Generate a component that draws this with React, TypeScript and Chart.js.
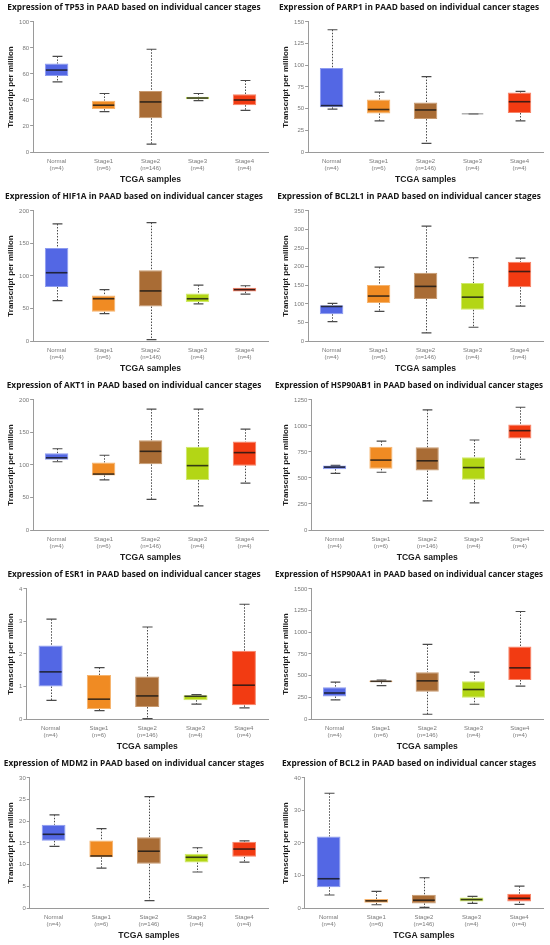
import { useEffect, useRef } from 'react';
import { Chart, registerables } from 'chart.js';

Chart.register(...registerables);

// x categories (sample groups)
const categories = [
  ['Normal', '(n=4)'],
  ['Stage1', '(n=6)'],
  ['Stage2', '(n=146)'],
  ['Stage3', '(n=4)'],
  ['Stage4', '(n=4)'],
];

const boxFill = ['#5367e4', '#f08b23', '#a96c35', '#b3d615', '#f23b12'];
const boxEdge = ['#8d9bf0', '#f6b46e', '#c89a70', '#d0ea6a', '#f78468'];

// each row: [min, q1, median, q3, max]
const tp53 = [[54, 58.5, 63, 68, 73.5], [31, 33, 36, 39.5, 45], [6, 26, 38.5, 47, 79], [39.5, 40.5, 41.5, 42.5, 45], [32, 36, 40, 44.5, 55]];
const parp1 = [[49.5, 51.5, 53.5, 97, 141], [36, 44.5, 49, 60.5, 69], [10, 38, 48.5, 57, 87], [44, 44, 44, 44, 44], [36, 45, 58, 68.5, 70]];
const hif1a = [[62, 83, 105, 143, 180], [42, 45, 65, 70, 79], [2, 53, 77, 109, 182], [57, 60, 65, 73, 86], [72, 76, 79, 82, 85]];
const bcl2l1 = [[52, 72, 93, 96, 101], [80, 102, 121, 151, 199], [22, 113, 147, 184, 309], [37, 84, 118, 156, 224], [94, 145, 187, 213, 223]];
const akt1 = [[105, 108, 111, 118, 125], [77, 84, 86, 104, 115], [47, 101, 121, 138, 186], [37, 77, 99, 128, 186], [72, 99, 119, 136, 155]];
const hsp90ab1 = [[545, 585, 605, 620, 622], [555, 588, 672, 800, 855], [280, 572, 665, 795, 1155], [260, 482, 600, 700, 865], [680, 880, 955, 1015, 1180]];
const esr1 = [[0.57, 1.0, 1.45, 2.26, 3.07], [0.26, 0.31, 0.61, 1.35, 1.58], [0.01, 0.37, 0.71, 1.31, 2.83], [0.46, 0.58, 0.7, 0.73, 0.75], [0.34, 0.42, 1.04, 2.1, 3.53]];
const hsp90aa1 = [[220, 260, 300, 365, 425], [385, 425, 435, 445, 450], [55, 315, 440, 540, 860], [170, 245, 340, 435, 540], [380, 450, 590, 835, 1240]];
const mdm2 = [[14.2, 15.5, 17, 19.2, 21.5], [9.2, 11.7, 12, 15.6, 18.3], [1.7, 10.2, 13.1, 16.3, 25.7], [8.3, 10.5, 11.7, 12.5, 13.9], [10.6, 11.8, 13.6, 15.3, 15.5]];
const bcl2 = [[4, 6.4, 9, 22, 35.3], [1.0, 1.6, 2.2, 2.8, 5.1], [0.2, 1.4, 2.4, 4.1, 9.3], [1.4, 2.0, 2.6, 3.2, 3.6], [1.1, 2.0, 3.0, 4.4, 6.7]];

const genes = ['TP53', 'PARP1', 'HIF1A', 'BCL2L1', 'AKT1', 'HSP90AB1', 'ESR1', 'HSP90AA1', 'MDM2', 'BCL2'];
const geneStats = [tp53, parp1, hif1a, bcl2l1, akt1, hsp90ab1, esr1, hsp90aa1, mdm2, bcl2];
const yMax = [100, 150, 200, 350, 200, 1250, 4, 1500, 30, 40];
const yStep = [20, 25, 50, 50, 50, 250, 1, 250, 5, 10];

const AXIS_GREY = '#9a9a9a';
const LABEL_GREY = '#7a7a7a';

// whiskers, caps and medians drawn against the chart's own scales
const boxPlugin = {
  id: 'boxWhiskers',
  beforeDatasetsDraw(chart: any) {
    const stats = chart.options.plugins.boxWhiskers.stats;
    const meta = chart.getDatasetMeta(0);
    const y = chart.scales.y;
    const ctx = chart.ctx;
    ctx.save();
    meta.data.forEach((bar: any, i: number) => {
      const [mn, q1, , q3, mx] = stats[i];
      const x = Math.round(bar.x) + 0.5;
      const cw = bar.width * 0.21;
      ctx.strokeStyle = '#4a4a4a';
      ctx.lineWidth = 1;
      ctx.setLineDash([1.5, 1.5]);
      ctx.beginPath();
      ctx.moveTo(x, y.getPixelForValue(mx));
      ctx.lineTo(x, y.getPixelForValue(q3));
      ctx.moveTo(x, y.getPixelForValue(q1));
      ctx.lineTo(x, y.getPixelForValue(mn));
      ctx.stroke();
      ctx.setLineDash([]);
      ctx.lineWidth = 1.2;
      ctx.beginPath();
      ctx.moveTo(x - cw, y.getPixelForValue(mx));
      ctx.lineTo(x + cw, y.getPixelForValue(mx));
      ctx.moveTo(x - cw, y.getPixelForValue(mn));
      ctx.lineTo(x + cw, y.getPixelForValue(mn));
      ctx.stroke();
    });
    ctx.restore();
  },
  afterDatasetsDraw(chart: any) {
    const stats = chart.options.plugins.boxWhiskers.stats;
    const meta = chart.getDatasetMeta(0);
    const y = chart.scales.y;
    const ctx = chart.ctx;
    ctx.save();
    meta.data.forEach((bar: any, i: number) => {
      const flat = stats[i][1] === stats[i][3];
      const yy = y.getPixelForValue(stats[i][2]);
      ctx.strokeStyle = flat ? '#8a8a8a' : 'rgba(20,20,20,0.8)';
      ctx.lineWidth = flat ? 1 : 1.6;
      ctx.beginPath();
      ctx.moveTo(bar.x - bar.width / 2 + 1, yy);
      ctx.lineTo(bar.x + bar.width / 2 - 1, yy);
      ctx.stroke();
    });
    ctx.restore();
  },
};

function BoxPanel({ index }: { index: number }) {
  const canvasRef = useRef<HTMLCanvasElement | null>(null);

  useEffect(() => {
    const canvas = canvasRef.current;
    if (!canvas) return;
    const stats = geneStats[index];

    const chart = new Chart(canvas, {
      type: 'bar',
      data: {
        labels: categories,
        datasets: [
          {
            data: stats.map(s => [s[1], s[3]]),
            backgroundColor: boxFill,
            borderColor: boxEdge,
            borderWidth: 1,
            borderSkipped: false,
            barPercentage: 1,
            categoryPercentage: 0.5,
          },
        ],
      },
      options: {
        responsive: false,
        animation: false,
        layout: { padding: { left: 0, right: 7, top: 0, bottom: 0 } },
        plugins: {
          legend: { display: false },
          tooltip: { enabled: false },
          title: {
            display: true,
            text: `Expression of ${genes[index]} in PAAD based on individual cancer stages`,
            color: '#151515',
            font: { family: 'Open Sans', size: 8.3, weight: 'bold', lineHeight: 1.2 },
            padding: { top: 3, bottom: 9 },
          },
          boxWhiskers: { stats },
        } as any,
        scales: {
          x: {
            grid: { display: true, drawOnChartArea: false, drawTicks: false },
            border: { display: true, color: AXIS_GREY, width: 1 },
            ticks: {
              color: LABEL_GREY,
              font: { family: 'Liberation Sans', size: 6, lineHeight: 1.15 },
              padding: 6,
              maxRotation: 0,
              autoSkip: false,
            },
            title: {
              display: true,
              text: 'TCGA samples',
              color: '#1a1a1a',
              font: { family: 'Liberation Sans', size: 8.6, weight: 'bold', lineHeight: 1.2 },
              padding: { top: 0, bottom: 4 },
            },
            afterFit: (s: any) => {
              s.height = 37;
            },
          },
          y: {
            min: 0,
            max: yMax[index],
            grid: { display: true, drawOnChartArea: false, drawTicks: true, tickLength: 3, color: AXIS_GREY },
            border: { display: true, color: AXIS_GREY, width: 1 },
            ticks: {
              stepSize: yStep[index],
              color: LABEL_GREY,
              font: { family: 'Liberation Sans', size: 6 },
              padding: 1,
              callback: (v: any) => String(v),
            },
            title: {
              display: true,
              text: 'Transcript per million',
              color: '#1a1a1a',
              font: { family: 'Liberation Sans', size: 8, weight: 'bold', lineHeight: 1.2 },
              padding: { top: 6, bottom: 2.5 },
            },
          },
        },
      } as any,
      plugins: [boxPlugin],
    });

    return () => chart.destroy();
  }, [index]);

  return <canvas ref={canvasRef} width={275} height={189} style={{ display: 'block' }} />;
}

export default function App() {
  return (
    <div
      style={{
        position: 'absolute',
        left: 0,
        top: 0,
        width: 550,
        height: 945,
        background: '#fff',
        display: 'grid',
        gridTemplateColumns: '275px 275px',
        gridAutoRows: '189px',
      }}
    >
      {genes.map((g, i) => (
        <BoxPanel key={g} index={i} />
      ))}
    </div>
  );
}
